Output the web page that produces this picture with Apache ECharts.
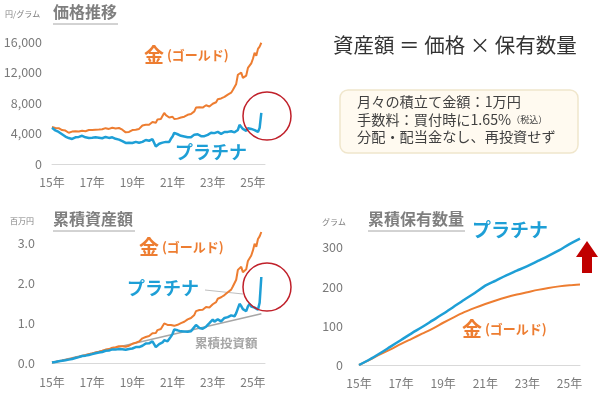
<!DOCTYPE html>
<html><head><meta charset="utf-8">
<script src="https://cdn.jsdelivr.net/npm/echarts@6/dist/echarts.min.js"></script>
<style>html,body{margin:0;padding:0;background:#fff}#c{width:600px;height:393px}</style>
</head><body><div id="c"></div>
<script>
// Monthly data from 2015-01 to 2025-06
const startYear = 2015;
const goldPrice = [
4870,4800,4720,4650,4700,4600,4450,4520,4380,4250,4100,4150,
4250,4400,4300,4380,4250,4200,4350,4250,4300,4400,4450,4350,
4450,4550,4500,4600,4520,4480,4550,4600,4700,4650,4600,4700,
4750,4700,4650,4700,4720,4600,4500,4350,4150,4250,4200,4300,
4450,4550,4500,4550,4600,4850,5050,5250,5150,5200,5150,5300,
5500,5650,5400,5850,5950,5900,6300,6700,6400,6300,6100,6150,
6200,5900,6000,5950,6200,6100,6250,6200,6300,6450,6500,6550,
6700,6900,7400,7600,7450,7500,7400,7550,7700,7650,7550,7600,
7900,7850,8100,8500,8400,8600,8550,8800,8850,9100,9250,9350,
9700,9900,10500,11700,11900,12000,11300,11100,11600,12600,12900,13200,
13800,14600,14200,15100,15400,15900];
const platPrice = [
4740,4600,4400,4300,4200,4080,3900,3750,3600,3650,3400,3300,
3290,3400,3500,3600,3550,3450,3700,3650,3500,3450,3420,3350,
3450,3600,3500,3550,3450,3400,3380,3500,3550,3450,3420,3400,
3500,3450,3300,3250,3200,3160,3000,2850,2760,2900,2800,2750,
2760,2850,2900,2850,2780,2850,2900,3000,3150,3100,3050,3160,
3250,3200,2300,2450,2650,2750,2800,3050,2900,2800,2900,3300,
3600,4080,3850,3900,3820,3700,3650,3600,3550,3500,3650,3500,
3700,3850,4080,3900,3700,3650,3550,3650,3700,3820,4000,4100,
4300,4050,4100,4210,4150,3950,4050,4200,4250,4210,4100,4300,
4200,4150,4400,4470,5130,4900,4600,4450,4340,4700,4870,4600,
4500,4450,4350,4210,4740,6700];
// Cumulative asset value (million yen)
const goldAsset = [
0.010,0.018,0.027,0.035,0.044,0.052,0.058,0.069,0.078,0.085,0.091,0.103,
0.115,0.128,0.135,0.147,0.152,0.159,0.174,0.180,0.192,0.207,0.219,0.225,
0.240,0.256,0.262,0.278,0.283,0.290,0.305,0.318,0.335,0.342,0.348,0.366,
0.380,0.386,0.392,0.407,0.419,0.418,0.419,0.415,0.407,0.427,0.433,0.454,
0.481,0.502,0.507,0.523,0.540,0.581,0.616,0.652,0.650,0.668,0.673,0.704,
0.743,0.773,0.749,0.822,0.847,0.851,0.920,0.990,0.956,0.951,0.931,0.949,
0.967,0.929,0.954,0.955,1.004,0.997,1.031,1.031,1.057,1.090,1.107,1.125,
1.159,1.202,1.297,1.341,1.324,1.341,1.332,1.367,1.401,1.400,1.389,1.406,
1.469,1.468,1.523,1.607,1.596,1.643,1.642,1.697,1.714,1.770,1.807,1.834,
1.911,1.957,2.082,2.328,2.376,2.404,2.271,2.237,2.343,2.552,2.619,2.686,
2.815,2.984,2.908,3.099,3.166,3.275];
const platAsset = [
0.010,0.018,0.026,0.034,0.042,0.049,0.055,0.063,0.069,0.080,0.084,0.090,
0.099,0.112,0.125,0.139,0.147,0.152,0.174,0.182,0.184,0.191,0.199,0.205,
0.221,0.240,0.244,0.257,0.260,0.266,0.274,0.293,0.306,0.307,0.314,0.321,
0.340,0.344,0.339,0.343,0.347,0.351,0.342,0.333,0.330,0.355,0.351,0.353,
0.362,0.382,0.397,0.399,0.398,0.416,0.432,0.456,0.488,0.490,0.491,0.518,
0.543,0.543,0.397,0.430,0.472,0.498,0.515,0.571,0.552,0.542,0.570,0.659,
0.731,0.837,0.798,0.817,0.809,0.791,0.788,0.786,0.782,0.779,0.820,0.794,
0.847,0.889,0.951,0.917,0.877,0.872,0.856,0.887,0.907,0.944,0.996,1.029,
1.088,1.034,1.055,1.092,1.086,1.042,1.077,1.126,1.149,1.147,1.126,1.190,
1.172,1.167,1.248,1.278,1.479,1.424,1.348,1.316,1.295,1.415,1.479,1.409,
1.391,1.385,1.365,1.330,1.509,2.149];
// Cumulative invested amount (million yen): start / end
const investX = [2015, 2025.42];
const investY = [0.01, 1.23];
// Cumulative holdings (grams), every half year from 2015.0
const goldGrams = [0,13,27,40,54,67,80,93,108,122,135,146,156,165,173,180,186,192,197,201,204,206];
const platGrams = [0,14,30,47,64,81,97,114,131,149,167,184,203,216,229,241,253,266,279,293,309,323];

const monthly = arr => arr.map((v, i) => [startYear + i / 12, v]);
const halfYear = arr => arr.map((v, i) => [startYear + i / 2, v]);

const GOLD = '#ED7D31', PLAT = '#1E9FD6', FONT = '"Noto Sans CJK JP", "Noto Sans", sans-serif';
const yearFmt = v => (Number.isInteger(v) ? String(v % 100) + '年' : '');

function xAx(grid, max, margin) {
  return { type: 'value', gridIndex: grid, min: 2015, max: max, interval: 2,
    axisLine: { show: true, lineStyle: { color: '#D9D9D9', width: 1 } },
    axisTick: { show: false }, splitLine: { show: false },
    axisLabel: { formatter: yearFmt, color: '#7A7A7A', fontSize: 12, fontFamily: FONT, margin: margin, showMaxLabel: false } };
}
function yAx(grid, max, interval, fmt, margin, showMax) {
  return { type: 'value', gridIndex: grid, min: 0, max: max, interval: interval,
    axisLine: { show: false }, axisTick: { show: false }, splitLine: { show: false },
    axisLabel: { formatter: fmt, color: '#7A7A7A', fontSize: 12.5, fontFamily: FONT, margin: margin, showMaxLabel: showMax } };
}
function line(xi, data, color, width) {
  return { type: 'line', xAxisIndex: xi, yAxisIndex: xi, data: data, showSymbol: false, symbol: 'none',
    lineStyle: { color: color, width: width }, itemStyle: { color: color }, animation: false, z: 3 };
}
function goldLabel(x, y) {
  return { type: 'text', left: x, top: y, style: { text: '{a|金}{b| (ゴールド)}', rich: {
    a: { fontSize: 20, fontWeight: 'bold', fill: GOLD, fontFamily: FONT },
    b: { fontSize: 13, fontWeight: 'bold', fill: GOLD, fontFamily: FONT } } } };
}
function platLabel(x, y, size) {
  return { type: 'text', left: x, top: y, style: { text: 'プラチナ', fontSize: size, fontWeight: 'bold', fill: PLAT, fontFamily: FONT } };
}
function title(x, y, text, w) {
  return [
    { type: 'text', left: x, top: y, style: { text: text, fontSize: 16, fontWeight: 'bold', fill: '#7F7F7F', fontFamily: FONT } },
    { type: 'line', shape: { x1: x, y1: y + 20, x2: x + w, y2: y + 20 }, style: { stroke: '#A6A6A6', lineWidth: 1 } }
  ];
}
function small(x, y, text) {
  return { type: 'text', left: x, top: y, style: { text: text, fontSize: 8, fill: '#808080', fontFamily: FONT } };
}

const chart = echarts.init(document.getElementById('c'), null, { renderer: 'canvas' });
chart.setOption({
  backgroundColor: '#fff',
  animation: false,
  textStyle: { fontFamily: FONT },
  grid: [
    { left: 52, top: 42, width: 213, height: 122 },
    { left: 52, top: 227, width: 213, height: 136 },
    { left: 359, top: 232, width: 221, height: 133 }
  ],
  xAxis: [xAx(0, 2025.6, 12), xAx(1, 2025.6, 13), xAx(2, 2025.5, 12)],
  yAxis: [
    yAx(0, 16000, 4000, v => v.toLocaleString('en-US'), 10, true),
    yAx(1, 3.4, 1, v => v.toFixed(1), 17, false),
    yAx(2, 340, 100, v => String(v), 16, false)
  ],
  series: [
    line(0, monthly(goldPrice), GOLD, 2),
    line(0, monthly(platPrice), PLAT, 2.5),
    Object.assign(line(1, investX.map((x, i) => [x, investY[i]]), '#A6A6A6', 1.5), { z: 2 }),
    line(1, monthly(goldAsset), GOLD, 2),
    line(1, monthly(platAsset), PLAT, 2.5),
    line(2, halfYear(goldGrams), GOLD, 2),
    line(2, halfYear(platGrams), PLAT, 2.5)
  ].map(s => Object.assign(s, { smooth: s.xAxisIndex === 2 ? 0.3 : false })),
  graphic: [
    small(5, 10, '円/グラム'),
    small(10, 217, '百万円'),
    small(322, 218, 'グラム'),
    ...title(53, 4, '価格推移', 65),
    ...title(53, 211, '累積資産額', 82),
    ...title(368, 211, '累積保有数量', 97),
    goldLabel(144, 45),
    platLabel(175, 143, 18),
    goldLabel(139, 237),
    platLabel(127, 279, 18),
    { type: 'line', shape: { x1: 205, y1: 290, x2: 243, y2: 294 }, style: { stroke: '#BFBFBF', lineWidth: 1 } },
    { type: 'text', left: 195, top: 337, style: { text: '累積投資額', fontSize: 12.5, fontWeight: 'bold', fill: '#A6A6A6', fontFamily: FONT } },
    platLabel(472, 220, 19),
    goldLabel(462, 319),
    { type: 'circle', shape: { cx: 267, cy: 116, r: 24 }, style: { fill: 'none', stroke: '#C0202A', lineWidth: 1.5 }, z: 10 },
    { type: 'circle', shape: { cx: 267, cy: 287, r: 24 }, style: { fill: 'none', stroke: '#C0202A', lineWidth: 1.5 }, z: 10 },
    { type: 'polygon', shape: { points: [[576,257],[587,241],[598,257],[592,257],[592,273],[582,273],[582,257]] }, style: { fill: '#C00000' } },
    { type: 'text', left: 333, top: 35, style: { text: '資産額 ＝ 価格 × 保有数量', fontSize: 20.5, fill: '#333333', fontFamily: FONT } },
    { type: 'rect', shape: { x: 340, y: 90, width: 238, height: 63, r: 8 }, style: { fill: '#FFFAF0', stroke: '#F0E6CC', lineWidth: 1.5 } },
    { type: 'text', left: 357, top: 93, style: { text: '月々の積立て金額：1万円\n手数料：買付時に1.65%{s|（税込）}\n分配・配当金なし、再投資せず', fontSize: 14.2, lineHeight: 17.5, fill: '#404040', fontFamily: FONT, rich: { s: { fontSize: 9, fill: '#404040', fontFamily: FONT } } } }
  ]
});
</script></body></html>
